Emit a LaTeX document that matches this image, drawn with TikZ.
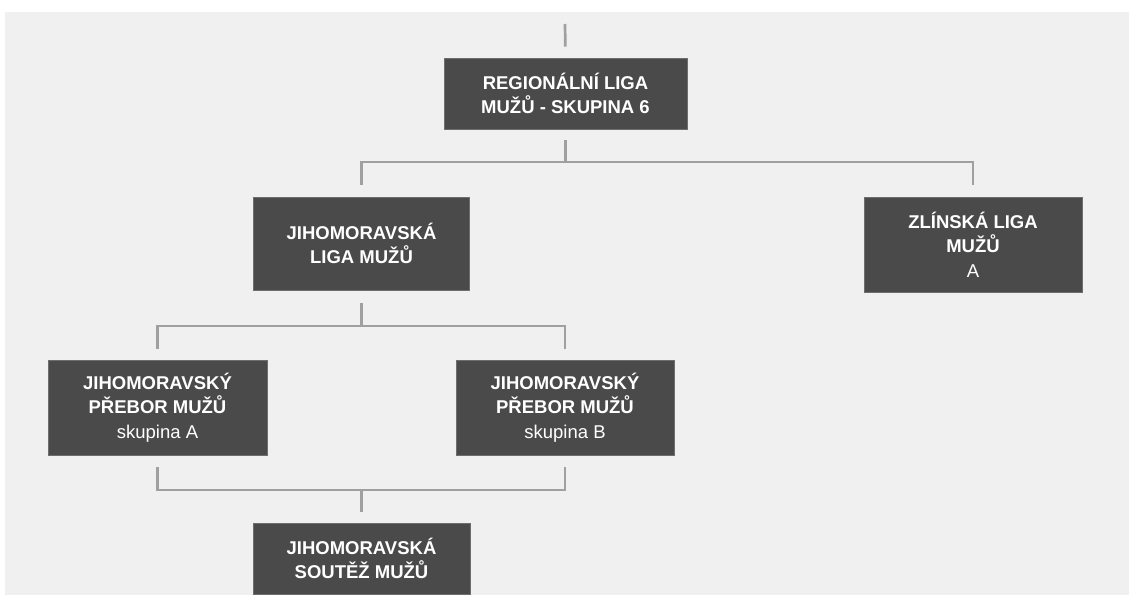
\documentclass[tikz,border=0pt]{standalone}
\usepackage{fontspec}
\setmainfont{Liberation Sans}
\definecolor{bgc}{HTML}{F0F0F0}
\definecolor{boxc}{HTML}{4A4A4A}
\definecolor{linec}{HTML}{A0A0A0}
\begin{document}
\begin{tikzpicture}[x=1pt,y=-1pt,
  box/.style={fill=boxc, draw=boxc!80!white, line width=0.6pt, text=white, inner sep=0pt, align=center,
    font=\fontsize{18.5}{24.5}\selectfont\bfseries},
  conn/.style={draw=linec, line width=2.7pt}]
\useasboundingbox (0,0) rectangle (1129,596);
\fill[white] (0,0) rectangle (1129,596);
\fill[bgc] (5,12) rectangle (1129,595);
% boxes
\node[box, minimum width=243pt, minimum height=71pt] (b1) at (565.5,93.5) {REGIONÁLNÍ LIGA\\MUŽŮ - SKUPINA 6};
\node[box, minimum width=216pt, minimum height=93pt] (b2) at (361.5,243.5) {JIHOMORAVSKÁ\\LIGA MUŽŮ};
\node[box, minimum width=218pt, minimum height=95pt] (b3) at (973,244.5) {ZLÍNSKÁ LIGA\\MUŽŮ\\{\mdseries A}};
\node[box, minimum width=219pt, minimum height=95pt] (b4) at (157.5,407.5) {JIHOMORAVSKÝ\\PŘEBOR MUŽŮ\\{\mdseries skupina A}};
\node[box, minimum width=218pt, minimum height=95pt] (b5) at (565,407.5) {JIHOMORAVSKÝ\\PŘEBOR MUŽŮ\\{\mdseries skupina B}};
\node[box, minimum width=217pt, minimum height=71pt] (b6) at (361.5,558.5) {JIHOMORAVSKÁ\\SOUTĚŽ MUŽŮ};
% junction levels
\coordinate (top) at (565,24);
\coordinate (busA) at (565,162);
\coordinate (busB) at (360,326);
\coordinate (busC) at (360,490);
% connectors
\draw[conn, shorten >=11pt] (top) -- (b1.north);
\draw[conn, shorten <=11pt] (b1.south) -- (b1.south |- busA);
\draw[conn, line cap=rect] (b2.north |- busA) -- (b3.north |- busA);
\draw[conn, shorten >=12pt] (b2.north |- busA) -- (b2.north);
\draw[conn, shorten >=12pt] (b3.north |- busA) -- (b3.north);
\draw[conn, shorten <=13pt] (b2.south) -- (b2.south |- busB);
\draw[conn, line cap=rect] (b4.north |- busB) -- (b5.north |- busB);
\draw[conn, shorten >=11pt] (b4.north |- busB) -- (b4.north);
\draw[conn, shorten >=11pt] (b5.north |- busB) -- (b5.north);
\draw[conn, shorten <=12pt] (b4.south) -- (b4.south |- busC);
\draw[conn, shorten <=12pt] (b5.south) -- (b5.south |- busC);
\draw[conn, line cap=rect] (b4.south |- busC) -- (b5.south |- busC);
\draw[conn, shorten >=11pt] (b6.north |- busC) -- (b6.north);
\end{tikzpicture}
\end{document}
